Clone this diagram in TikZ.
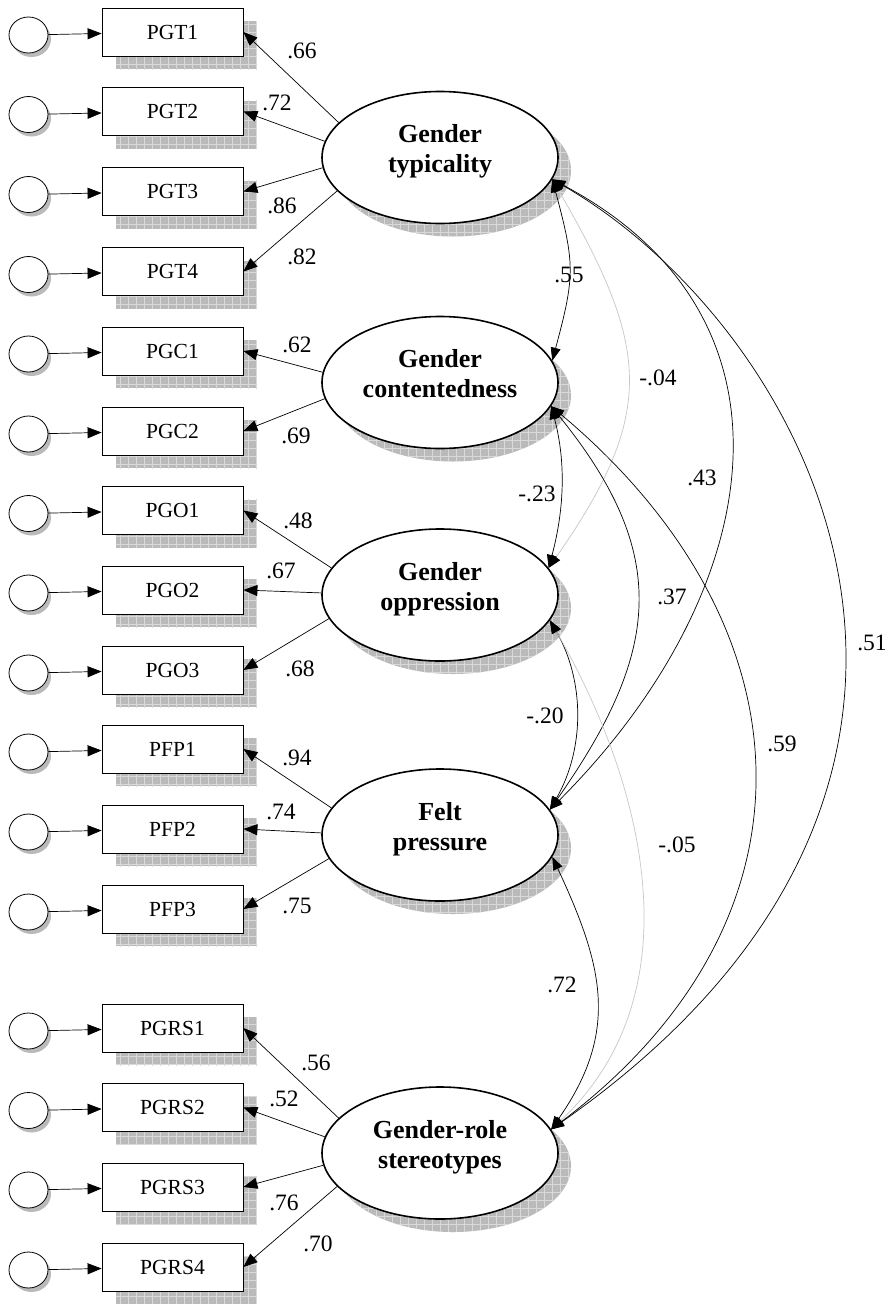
\documentclass[tikz,border=0pt]{standalone}
\usepackage{fontspec}
\setmainfont{Liberation Serif}
\usetikzlibrary{arrows.meta,shapes.geometric}
\begin{document}
\begin{tikzpicture}[x=1pt,y=1pt,
  obs/.style={draw=black, line width=0.8pt, fill=white, minimum width=141pt,
    minimum height=48pt, inner sep=0pt, font=\fontsize{21.5}{24}\selectfont},
  err/.style={draw=black, line width=0.8pt, fill=white, ellipse,
    minimum width=39pt, minimum height=36pt, inner sep=0pt},
  lat/.style={draw=black, line width=1.6pt, fill=white, ellipse,
    minimum width=236pt, minimum height=132pt, inner sep=0pt},
  lattext/.style={font=\fontsize{26}{30}\selectfont\bfseries, align=center, inner sep=0pt},
  est/.style={font=\fontsize{23.5}{26}\selectfont, inner sep=0pt},
  tip/.style={-{Triangle[length=14pt,width=11pt]}, line width=0.7pt},
  cov/.style={{Triangle[length=13pt,width=10pt,color=black]}-{Triangle[length=13pt,width=10pt,color=black]}, line width=0.7pt},
  faint/.style={draw=black!22},
  shadowfill/.style={fill=black!27},
  shadowgrid/.style={draw=black!15, line width=0.5pt},
  errshadow/.style={fill=black!27},
]
\useasboundingbox (0,0) rectangle (891,-1304);
\fill[white] (0,0) rectangle (891,-1304);

% latent variable shadows (grey, gridded)
\foreach \yy in {157.5,382.5,595,835,1153} {
  \begin{scope}
    \clip (453,-\yy-13) ellipse [x radius=118, y radius=66];
    \fill[shadowfill] (320,-\yy-100) rectangle (590,-\yy+80);
    \draw[shadowgrid, step=8pt] (320,-\yy-100) grid (590,-\yy+80);
  \end{scope}
}

% indicators with their error terms
\foreach \n/\yy in {PGT1/32,PGT2/111.5,PGT3/191.5,PGT4/271.5,PGC1/351,PGC2/431,
    PGO1/510.5,PGO2/590,PGO3/670,PFP1/749,PFP2/829,PFP3/909,
    PGRS1/1028,PGRS2/1107.5,PGRS3/1187,PGRS4/1267} {
  \begin{scope}
    \clip (116,-\yy+11) rectangle (257,-\yy-37);
    \fill[shadowfill] (116,-\yy+11) rectangle (257,-\yy-37);
    \draw[shadowgrid, step=8pt] (112,-\yy-40) grid (260,-\yy+16);
  \end{scope}
  \fill[errshadow] (31.5,-\yy-7) ellipse [x radius=19.5, y radius=18];
  \node[obs] (\n) at (172.5,-\yy) {\n};
  \node[err] (e\n) at (28.5,-\yy-3) {};
  \draw[tip] (e\n) -- (\n);
}

% latent factors
\node[lat] (gt) at (440,-157.5) {};
\node[lat] (gc) at (440,-382.5) {};
\node[lat] (go) at (440,-595) {};
\node[lat] (gf) at (440,-835) {};
\node[lat] (gr) at (440,-1153) {};
\node[lattext] (gtT) at (gt) {\rule{0pt}{20pt}Gender\\typicality\rule[-20pt]{0pt}{20pt}};
\node[lattext] (gcT) at (gc) {\rule{0pt}{20pt}Gender\\contentedness\rule[-20pt]{0pt}{20pt}};
\node[lattext] (goT) at (go) {\rule{0pt}{20pt}Gender\\oppression\rule[-20pt]{0pt}{20pt}};
\node[lattext] (gfT) at (gf) {\rule{0pt}{20pt}Felt\\pressure\rule[-20pt]{0pt}{20pt}};
\node[lattext] (grT) at (gr) {\rule{0pt}{20pt}Gender-role\\stereotypes\rule[-20pt]{0pt}{20pt}};

% factor loadings
\draw[tip] (gt.161) -- (PGT1.east);
\draw[tip] (gt.172.5) -- (PGT2.east);
\draw[tip] (gt.185.6) -- (PGT3.east);
\draw[tip] (gt.198) -- (PGT4.east);
\draw[tip] (gc.175) -- (PGC1.east);
\draw[tip] (gc.188) -- (PGC2.east);
\draw[tip] (go.166) -- (PGO1.east);
\draw[tip] (go.179) -- (PGO2.east);
\draw[tip] (go.192.6) -- (PGO3.east);
\draw[tip] (gf.166) -- (PFP1.east);
\draw[tip] (gf.179) -- (PFP2.east);
\draw[tip] (gf.192) -- (PFP3.east);
\draw[tip] (gr.161) -- (PGRS1.east);
\draw[tip] (gr.172) -- (PGRS2.east);
\draw[tip] (gr.186) -- (PGRS3.east);
\draw[tip] (gr.198) -- (PGRS4.east);

\node[est] (l1) at (302,-51) {.66};
\node[est] (l2) at (277,-103) {.72};
\node[est] (l3) at (282,-206) {.86};
\node[est] (l4) at (302,-257) {.82};
\node[est] (l5) at (297,-345) {.62};
\node[est] (l6) at (296,-436) {.69};
\node[est] (l7) at (298,-521) {.48};
\node[est] (l8) at (281,-571) {.67};
\node[est] (l9) at (300,-669) {.68};
\node[est] (l10) at (297,-758) {.94};
\node[est] (l11) at (281,-812) {.74};
\node[est] (l12) at (297,-906) {.75};
\node[est] (l13) at (316,-1063) {.56};
\node[est] (l14) at (284,-1099) {.52};
\node[est] (l15) at (284,-1203) {.76};
\node[est] (l16) at (318,-1244) {.70};

% factor covariances
\draw[cov] (gt.-11) .. controls +(-75:88) and +(75:88) .. (gc.11);
\draw[cov,faint] (gt.-11) .. controls +(-60:192) and +(55:192) .. (go.14);
\draw[cov] (gt.-11) .. controls +(-28:300) and +(45:300) .. (gf.13);
\draw[cov] (gt.-11) .. controls +(-30:300) and +(35:610) .. (gr.12);
\draw[cov] (gc.-12) .. controls +(-75:59) and +(75:59) .. (go.14);
\draw[cov] (gc.-12) .. controls +(-51:192) and +(55:192) .. (gf.13);
\draw[cov] (gc.-12) .. controls +(-40:345) and +(37:345) .. (gr.12);
\draw[cov] (go.-13) .. controls +(-60:70) and +(60:70) .. (gf.13);
\draw[cov,faint] (go.-13) .. controls +(-60:196) and +(43:196) .. (gr.12);
\draw[cov] (gf.-11) .. controls +(-65:120) and +(55:120) .. (gr.12);

\node[est] (c1) at (569,-275) {.55};
\node[est] (c2) at (658,-378) {-.04};
\node[est] (c3) at (702,-478) {.43};
\node[est] (c4) at (872,-643) {.51};
\node[est] (c5) at (537,-494) {-.23};
\node[est] (c6) at (672,-597) {.37};
\node[est] (c7) at (782,-744) {.59};
\node[est] (c8) at (545,-716) {-.20};
\node[est] (c9) at (677,-845) {-.05};
\node[est] (c10) at (562,-985) {.72};
\end{tikzpicture}
\end{document}
